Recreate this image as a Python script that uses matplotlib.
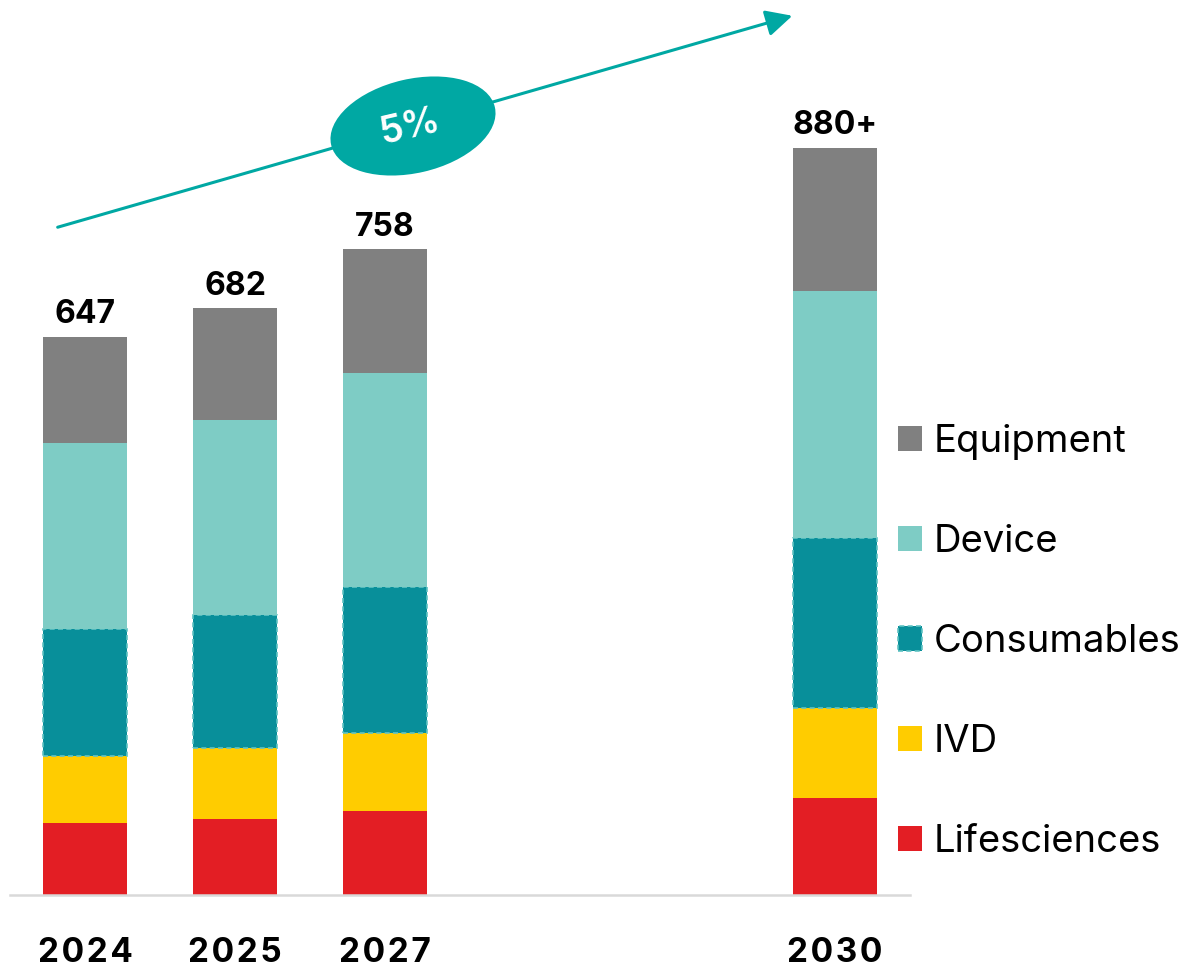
import matplotlib
matplotlib.use("Agg")
import matplotlib.pyplot as plt
from matplotlib.patches import Patch, Ellipse, FancyArrowPatch

plt.rcParams['font.family'] = ['Inter', 'DejaVu Sans']

years = ["2024", "2025", "2027", "2030"]
positions = [0, 1, 2, 5]
totals_text = ["647", "682", "758", "880+"]
segments = ["Lifesciences", "IVD", "Consumables", "Device", "Equipment"]
lifesciences = [84, 89, 98, 113]
ivd = [78, 83, 91, 106]
consumables = [149, 156, 171, 198]
device = [218, 227, 251, 290]
equipment = [124, 131, 144, 167]
cagr_text = "5%"

colors = {"Lifesciences": "#E31E24", "IVD": "#FFCC00", "Consumables": "#088F9A",
          "Device": "#7ECCC5", "Equipment": "#808080"}
series = {"Lifesciences": lifesciences, "IVD": ivd, "Consumables": consumables,
          "Device": device, "Equipment": equipment}

W, H = 1193, 968
fig = plt.figure(figsize=(W / 100, H / 100), dpi=100)
ax = fig.add_axes([10 / W, 73 / H, 900 / W, 885 / H])

bottom = [0] * len(years)
for name in segments:
    vals = series[name]
    if name == "Consumables":
        ax.bar(positions, vals, bottom=bottom, width=0.56, color=colors[name],
               edgecolor="#62C3C3", linestyle=(0, (3, 2)), linewidth=1.2, zorder=2)
    else:
        ax.bar(positions, vals, bottom=bottom, width=0.56, color=colors[name],
               linewidth=0, zorder=2)
    bottom = [bo + v for bo, v in zip(bottom, vals)]

for p, tot, lab in zip(positions, bottom, totals_text):
    ax.annotate(lab, (p, tot), xytext=(0, 5), textcoords="offset points",
                ha="center", va="bottom", fontsize=23, fontweight="bold", color="#000000")

ax.set_xlim(-0.5, 5.5)
ax.set_ylim(0, 885 / 0.855)
for s in ["top", "right", "left"]:
    ax.spines[s].set_visible(False)
ax.spines["bottom"].set_color("#D9D9D9")
ax.spines["bottom"].set_linewidth(1.8)
ax.set_yticks([])
ax.set_xticks(positions)
ax.set_xticklabels(["\u200a".join(y) for y in years], fontsize=24, fontweight="bold")
ax.tick_params(axis="x", length=0, pad=30)
ax.patch.set_alpha(0)

# growth arrow and CAGR ellipse (figure pixel coordinates via inches)
tr = fig.dpi_scale_trans
arrow = FancyArrowPatch((55 / 100, (H - 228) / 100), (795 / 100, (H - 15) / 100),
                        transform=tr, arrowstyle="-|>,head_length=0.8,head_width=0.4",
                        mutation_scale=20, color="#00A8A3", linewidth=2.2, zorder=5)
fig.patches.append(arrow)
ell = Ellipse((413 / 100, (H - 126) / 100), 1.68, 0.94, angle=13, transform=tr,
              facecolor="#00A8A3", edgecolor="none", zorder=6)
fig.patches.append(ell)
fig.text(410 / W, (H - 127) / H, cagr_text, ha="center", va="center", rotation=13,
         fontsize=27, fontweight="semibold", color="white", zorder=7)

leg_handles = []
for name in reversed(segments):
    if name == "Consumables":
        leg_handles.append(Patch(facecolor=colors[name], edgecolor="#62C3C3",
                                 linestyle=(0, (3, 2)), linewidth=1.2, label=name))
    else:
        leg_handles.append(Patch(facecolor=colors[name], edgecolor="none", label=name))
fig.legend(handles=leg_handles, loc="center left", bbox_to_anchor=(898 / W, (H - 642) / H),
           frameon=False, fontsize=27.5, handlelength=0.63, handleheight=0.63,
           handletextpad=0.3, labelspacing=1.67, borderpad=0, borderaxespad=0)

fig.savefig("out.png", dpi=100)
